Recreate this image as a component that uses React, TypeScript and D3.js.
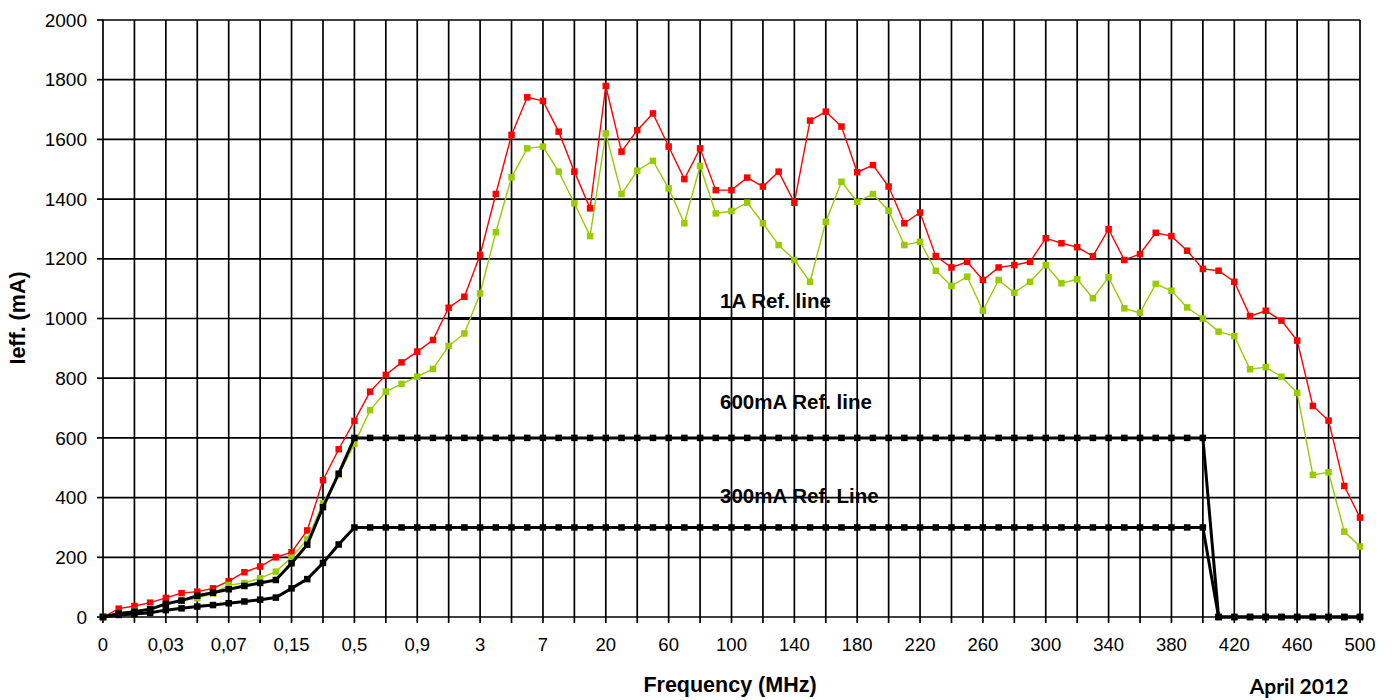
import React from "react";
import * as d3 from "d3";

const categories = [
  "0", "0,01", "0,015", "0,02", "0,03", "0,04", "0,05", "0,06", "0,07", "0,08",
  "0,09", "0,1", "0,15", "0,2", "0,3", "0,4", "0,5", "0,6", "0,7", "0,8",
  "0,9", "1", "1,5", "2", "3", "4", "5", "6", "7", "8",
  "10", "15", "20", "30", "40", "50", "60", "70", "80", "90",
  "100", "110", "120", "130", "140", "150", "160", "170", "180", "190",
  "200", "210", "220", "230", "240", "250", "260", "270", "280", "290",
  "300", "310", "320", "330", "340", "350", "360", "370", "380", "390",
  "400", "410", "420", "430", "440", "450", "460", "470", "480", "490",
  "500",
];

const redValues = [
  0, 28, 37, 48, 64, 80, 85, 96, 120, 150,
  169, 200, 217, 290, 458, 562, 657, 755, 811, 853,
  889, 928, 1036, 1073, 1213, 1417, 1615, 1741, 1729, 1626,
  1492, 1369, 1779, 1559, 1631, 1687, 1576, 1467, 1570, 1430,
  1430, 1472, 1442, 1492, 1388, 1663, 1693, 1643, 1490, 1514,
  1442, 1319, 1355, 1209, 1171, 1190, 1129, 1171, 1179, 1190,
  1269, 1252, 1239, 1209, 1299, 1196, 1216, 1287, 1276, 1227,
  1166, 1160, 1123, 1008, 1026, 993, 926, 707, 658, 439,
  333,
];

const greenValues = [
  0, 13, 20, 29, 43, 55, 63, 79, 107, 114,
  130, 152, 199, 260, 381, 476, 580, 693, 755, 781,
  805, 831, 908, 950, 1084, 1289, 1473, 1570, 1576, 1492,
  1386, 1276, 1620, 1417, 1495, 1528, 1436, 1319, 1511, 1352,
  1360, 1388, 1319, 1246, 1196, 1123, 1324, 1458, 1391, 1417,
  1361, 1246, 1257, 1160, 1109, 1140, 1026, 1129, 1086, 1123,
  1179, 1118, 1131, 1068, 1138, 1034, 1019, 1116, 1093, 1037,
  1000, 956, 941, 830, 837, 805, 751, 476, 485, 286,
  236,
];

const ref600 = [
  0, 12, 18, 26, 44, 55, 71, 81, 93, 104,
  114, 124, 180, 242, 368, 480, 600, 600, 600, 600,
  600, 600, 600, 600, 600, 600, 600, 600, 600, 600,
  600, 600, 600, 600, 600, 600, 600, 600, 600, 600,
  600, 600, 600, 600, 600, 600, 600, 600, 600, 600,
  600, 600, 600, 600, 600, 600, 600, 600, 600, 600,
  600, 600, 600, 600, 600, 600, 600, 600, 600, 600,
  600, 0, 0, 0, 0, 0, 0, 0, 0, 0,
  0,
];

const ref300 = [
  0, 7, 10, 14, 23, 29, 35, 40, 46, 52,
  58, 65, 96, 127, 181, 243, 300, 300, 300, 300,
  300, 300, 300, 300, 300, 300, 300, 300, 300, 300,
  300, 300, 300, 300, 300, 300, 300, 300, 300, 300,
  300, 300, 300, 300, 300, 300, 300, 300, 300, 300,
  300, 300, 300, 300, 300, 300, 300, 300, 300, 300,
  300, 300, 300, 300, 300, 300, 300, 300, 300, 300,
  300, 0, 0, 0, 0, 0, 0, 0, 0, 0,
  0,
];

const N = null;
const ref1A: (number | null)[] = [
  N, N, N, N, N, N, N, N, N, N,
  N, N, N, N, N, N, N, N, N, N,
  N, N, 1000, 1000, 1000, 1000, 1000, 1000, 1000, 1000,
  1000, 1000, 1000, 1000, 1000, 1000, 1000, 1000, 1000, 1000,
  1000, 1000, 1000, 1000, 1000, 1000, 1000, 1000, 1000, 1000,
  1000, 1000, 1000, 1000, 1000, 1000, 1000, 1000, 1000, 1000,
  1000, 1000, 1000, 1000, 1000, 1000, 1000, 1000, 1000, 1000,
  1000, N, N, N, N, N, N, N, N, N,
  N,
];

const yTicks = [0, 200, 400, 600, 800, 1000, 1200, 1400, 1600, 1800, 2000];

const refLabels = [
  { text: "1A Ref. line", value: 1000, dy: -10.5 },
  { text: "600mA Ref. line", value: 600, dy: -29 },
  { text: "300mA Ref. Line", value: 300, dy: -24.5 },
];

const W = 1392;
const H = 700;
const left = 103;
const right = 1360;
const top = 20;
const bottom = 617;
const FONT = "'Liberation Sans', Arial, sans-serif";

export default function App() {
  const x = d3.scalePoint<string>().domain(categories).range([left, right]).padding(0);
  const y = d3.scaleLinear().domain([0, 2000]).range([bottom, top]);

  const line = d3
    .line<number | null>()
    .defined((d) => d != null)
    .x((_, i) => x(categories[i]) as number)
    .y((d) => y(d as number));

  const gridX = categories.filter((_, i) => i % 2 === 0);
  const labelX = categories.filter((_, i) => i % 4 === 0);

  const markers = (vals: (number | null)[], color: string, size: number, key: string) =>
    vals.map((v, i) =>
      v == null ? null : (
        <rect
          key={key + i}
          x={(x(categories[i]) as number) - size / 2}
          y={y(v) - size / 2}
          width={size}
          height={size}
          fill={color}
        />
      )
    );

  return (
    <svg
      width={W}
      height={H}
      style={{ position: "absolute", left: 0, top: 0, background: "#fff" }}
      fontFamily={FONT}
    >
      <rect x={0} y={0} width={W} height={H} fill="#fff" />
      {/* grid */}
      {yTicks.map((t) => (
        <line key={"gy" + t} x1={left} x2={right} y1={y(t)} y2={y(t)} stroke="#000" strokeWidth={1.7} />
      ))}
      {gridX.map((c) => (
        <line key={"gx" + c} x1={x(c)} x2={x(c)} y1={top} y2={bottom + 6} stroke="#000" strokeWidth={1.7} />
      ))}
      {yTicks.map((t) => (
        <line key={"ty" + t} x1={left - 6} x2={left} y1={y(t)} y2={y(t)} stroke="#000" strokeWidth={1.7} />
      ))}
      {/* y labels */}
      {yTicks.map((t) => (
        <text key={"ly" + t} x={87} y={y(t)} dy="0.35em" textAnchor="end" fontSize={19} fill="#000">
          {t}
        </text>
      ))}
      {/* x labels */}
      {labelX.map((c) => (
        <text key={"lx" + c} x={x(c)} y={645} dy="0.35em" textAnchor="middle" fontSize={18.5} fill="#000">
          {c}
        </text>
      ))}

      {/* series */}
      <path d={line(ref1A) || ""} fill="none" stroke="#000" strokeWidth={3} />
      <path d={line(redValues) || ""} fill="none" stroke="#FF0000" strokeWidth={1.4} />
      {markers(redValues, "#FF0000", 6.5, "r")}
      <path d={line(greenValues) || ""} fill="none" stroke="#99CC00" strokeWidth={1.4} />
      {markers(greenValues, "#99CC00", 6.5, "g")}
      <path d={line(ref600) || ""} fill="none" stroke="#000" strokeWidth={3} />
      {markers(ref600, "#000", 6.5, "s6")}
      <path d={line(ref300) || ""} fill="none" stroke="#000" strokeWidth={3} />
      {markers(ref300, "#000", 6.5, "s3")}

      {/* reference labels */}
      {refLabels.map((r) => (
        <text key={r.text} x={720} y={y(r.value) + r.dy} fontSize={20.5} fontWeight="bold" fill="#000">
          {r.text}
        </text>
      ))}

      {/* axis titles */}
      <text x={730} y={692} textAnchor="middle" fontSize={21.5} fontWeight="bold" fill="#000">
        Frequency (MHz)
      </text>
      <text
        transform={`translate(25,318) rotate(-90)`}
        textAnchor="middle"
        fontSize={21.5}
        fontWeight="bold"
        fill="#000"
      >
        Ieff. (mA)
      </text>
      <text x={1299} y={694} textAnchor="middle" fontSize={21} fontWeight="bold" fill="#000" fontFamily="Lato, 'Open Sans', sans-serif">
        April 2012
      </text>
    </svg>
  );
}
